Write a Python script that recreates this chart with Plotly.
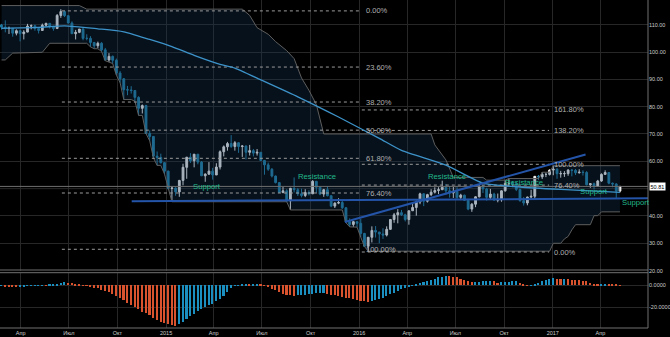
import plotly.graph_objects as go
from plotly.subplots import make_subplots
import pandas as pd

# ---------------- data (weekly candles) ----------------
week_start = "2014-02-24"
n_weeks = 168
dates = pd.date_range(week_start, periods=n_weeks, freq="7D")

opens = [109.9, 109.1, 108.6, 108.7, 106.9, 107.8, 106.7, 107.3, 109.5, 109.6,
         108.6, 107.9, 109.8, 110.5, 109.4, 108.6, 113.4, 114.8, 113.3, 110.6,
         106.7, 107.2, 108.4, 105.0, 105.0, 103.5, 102.3, 103.2, 100.8, 97.1,
         98.4, 97.0, 92.3, 90.2, 86.2, 86.1, 85.9, 83.4, 79.4, 80.4,
         70.2, 69.1, 61.9, 61.4, 59.5, 56.4, 50.1, 50.2, 48.8, 53.0,
         57.8, 61.5, 60.2, 62.6, 59.7, 54.7, 55.3, 56.4, 55.0, 57.9,
         63.5, 65.3, 66.5, 65.4, 66.8, 65.4, 65.6, 63.3, 63.9, 63.0,
         63.3, 60.3, 58.7, 57.1, 54.6, 52.2, 48.6, 49.2, 45.5, 50.1,
         49.6, 48.1, 47.5, 48.6, 48.1, 52.7, 50.5, 48.0, 49.6, 47.4,
         43.6, 44.7, 44.9, 43.0, 37.9, 36.9, 37.9, 37.3, 33.6, 28.9,
         32.2, 34.7, 34.1, 33.4, 33.0, 35.1, 38.7, 40.4, 41.2, 40.4,
         38.7, 41.9, 43.1, 45.1, 48.1, 45.4, 47.8, 48.7, 49.3, 49.6,
         50.5, 49.2, 48.4, 49.0, 46.8, 47.6, 45.7, 42.5, 44.3, 47.0,
         50.9, 49.9, 46.8, 48.0, 45.8, 45.9, 49.2, 51.9, 51.95, 51.8,
         49.7, 45.6, 44.75, 46.9, 47.2, 54.5, 54.3, 55.2, 55.2, 56.8,
         57.1, 55.45, 55.5, 55.5, 56.8, 56.7, 55.8, 56.0, 55.9, 51.4,
         51.8, 50.8, 52.8, 55.2, 55.9, 52.0, 51.7, 49.1]
highs = [110.3, 111.6, 109.3, 108.8, 108.3, 108.2, 108.0, 110.3, 110.1, 110.0,
         108.9, 110.4, 110.7, 110.6, 109.6, 113.9, 115.7, 115.2, 113.4, 111.2,
         108.1, 108.4, 108.9, 106.5, 105.8, 103.7, 103.8, 103.6, 101.5, 99.6,
         98.7, 97.6, 93.0, 90.5, 87.6, 87.5, 86.0, 83.8, 80.8, 80.7,
         71.3, 69.2, 63.6, 62.8, 59.7, 56.6, 50.9, 50.5, 53.2, 59.1,
         61.6, 63.0, 62.6, 62.6, 60.1, 55.6, 59.7, 57.6, 59.3, 64.0,
         65.8, 67.1, 69.6, 67.4, 67.0, 65.9, 65.8, 66.0, 64.5, 64.5,
         63.4, 60.5, 59.5, 57.5, 54.8, 52.3, 50.6, 49.8, 50.3, 54.1,
         50.2, 50.0, 49.8, 49.4, 53.1, 52.7, 50.7, 49.9, 50.9, 47.4,
         45.0, 46.5, 45.5, 43.2, 39.1, 38.2, 38.2, 38.9, 33.8, 32.3,
         36.2, 36.3, 34.2, 35.5, 36.2, 38.9, 41.1, 42.5, 42.2, 40.8,
         41.9, 44.7, 45.6, 48.5, 48.3, 48.1, 49.8, 50.5, 50.5, 52.9,
         51.7, 51.0, 50.6, 50.5, 48.1, 47.8, 45.9, 44.7, 47.2, 51.2,
         51.2, 50.3, 49.9, 48.5, 48.2, 49.4, 53.0, 53.7, 52.8, 52.3,
         50.0, 46.9, 47.1, 49.6, 54.5, 55.0, 56.0, 55.8, 57.0, 58.4,
         57.5, 56.5, 56.4, 57.1, 57.2, 57.2, 57.1, 56.7, 56.4, 52.0,
         52.2, 53.2, 55.6, 56.7, 56.0, 52.2, 52.0, 51.0]
lows = [108.2, 107.2, 106.6, 105.6, 106.1, 103.9, 104.6, 107.2, 108.3, 107.8,
        106.8, 107.7, 109.3, 108.6, 107.8, 108.4, 112.5, 112.8, 110.5, 106.7,
        104.6, 106.9, 104.3, 104.3, 101.9, 101.2, 101.4, 100.2, 96.8, 96.4,
        95.8, 91.5, 88.8, 82.6, 84.2, 84.8, 82.0, 76.8, 77.5, 70.1,
        67.5, 61.3, 58.5, 59.2, 55.3, 49.7, 45.2, 47.4, 47.0, 51.2,
        53.6, 59.4, 57.8, 58.9, 54.6, 52.5, 55.0, 53.3, 55.0, 57.0,
        61.8, 63.9, 64.9, 63.9, 63.1, 61.6, 60.7, 62.1, 61.8, 62.1,
        60.3, 55.1, 56.5, 54.1, 51.9, 48.4, 48.3, 45.1, 42.2, 48.6,
        47.3, 46.8, 46.9, 47.5, 48.0, 48.5, 47.6, 47.0, 47.2, 43.2,
        42.9, 44.3, 42.5, 37.5, 36.0, 36.0, 35.9, 32.2, 28.8, 27.1,
        30.3, 32.1, 30.0, 31.6, 32.5, 34.9, 37.5, 37.3, 40.0, 38.0,
        36.8, 41.8, 40.1, 44.3, 43.6, 44.9, 47.3, 48.2, 48.0, 49.5,
        47.8, 46.7, 46.6, 46.0, 45.8, 45.5, 42.1, 41.5, 43.2, 46.8,
        48.4, 45.6, 46.0, 45.6, 45.0, 45.2, 48.9, 50.6, 50.5, 49.1,
        45.2, 43.8, 43.9, 46.5, 45.9, 53.2, 53.5, 54.2, 54.8, 54.9,
        53.6, 54.0, 54.3, 54.7, 54.5, 55.0, 55.5, 54.8, 51.2, 50.3,
        49.7, 50.7, 52.5, 55.0, 51.6, 50.5, 46.6, 48.6]
closes = [109.1, 108.6, 108.7, 106.9, 107.8, 106.7, 107.3, 109.5, 109.6, 108.6,
          107.9, 109.8, 110.5, 109.4, 108.6, 113.4, 114.8, 113.3, 110.6, 106.7,
          107.2, 108.4, 105.0, 105.0, 103.5, 102.3, 103.2, 100.8, 97.1, 98.4,
          97.0, 92.3, 90.2, 86.2, 86.1, 85.9, 83.4, 79.4, 80.4, 70.2,
          69.1, 61.9, 61.4, 59.5, 56.4, 50.1, 50.2, 48.8, 53.0, 57.8,
          61.5, 60.2, 62.6, 59.7, 54.7, 55.3, 56.4, 55.0, 57.9, 63.5,
          65.3, 66.5, 65.4, 66.8, 65.4, 65.6, 63.3, 63.9, 63.0, 63.3,
          60.3, 58.7, 57.1, 54.6, 52.2, 48.6, 49.2, 45.5, 50.1, 49.6,
          48.1, 47.5, 48.6, 48.1, 52.7, 50.5, 48.0, 49.6, 47.4, 43.6,
          44.7, 44.9, 43.0, 37.9, 36.9, 37.9, 37.3, 33.6, 28.9, 32.2,
          34.7, 34.1, 33.4, 33.0, 35.1, 38.7, 40.4, 41.2, 40.4, 38.7,
          41.9, 43.1, 45.1, 48.1, 45.4, 47.8, 48.7, 49.3, 49.6, 50.5,
          49.2, 48.4, 49.0, 46.8, 47.6, 45.7, 42.5, 44.3, 47.0, 50.9,
          49.9, 46.8, 48.0, 45.8, 45.9, 49.2, 51.9, 51.95, 51.8, 49.7,
          45.6, 44.75, 46.9, 47.2, 54.5, 54.3, 55.2, 55.2, 56.8, 57.1,
          55.45, 55.5, 55.5, 56.8, 56.7, 55.8, 56.0, 55.9, 51.4, 51.8,
          50.8, 52.8, 55.2, 55.9, 52.0, 51.7, 49.1, 50.81]

macd = [-0.5, -0.8, -1.0, -1.3, -1.5, -1.2, -0.9, -0.6, -0.4, -0.2,
        0.1, 0.2, 0.1, 0.3, 0.8, 1.5, 2.2, 2.6, 2.3, 1.8,
        1.0, 0.5, 0.2, -0.6, -1.2, -2.0, -2.8, -3.8, -5.0, -6.3,
        -7.8, -9.5, -11.5, -13.5, -15.5, -17.5, -19.5, -21.5, -23.5, -25.0,
        -27.0, -29.0, -31.0, -32.5, -34.0, -35.0, -35.8, -36.3, -35.0, -33.0,
        -30.5, -27.5, -25.5, -23.0, -21.5, -19.5, -17.5, -16.5, -14.5, -12.0,
        -9.5, -6.0, -2.5, -0.5, 0.1, 0.5, 0.8, 0.6, 1.2, 1.5,
        0.8, -0.5, -1.5, -3.0, -4.5, -6.0, -7.5, -8.5, -9.0, -9.5,
        -9.0, -8.8, -8.3, -8.0, -7.5, -7.3, -7.2, -6.8, -8.0, -8.5,
        -9.0, -9.8, -10.5, -11.0, -11.8, -12.5, -13.2, -13.8, -14.3, -14.6,
        -14.2, -13.6, -12.5, -11.0, -9.5, -8.0, -6.5, -5.0, -3.5, -2.0,
        -1.2, -0.5, 0.5, 1.8, 2.8, 3.8, 5.0, 6.0, 7.0, 7.8,
        8.3, 8.1, 7.6, 7.0, 5.8, 4.6, 3.5, 2.8, 3.0, 3.3,
        3.5, 3.9, 4.2, 3.5, 2.5, 2.6, 2.9, 3.2, 3.5, 3.7,
        2.5, 0.3, -0.2, -0.1, 0.5, 2.0, 3.5, 4.8, 5.8, 6.3,
        5.8, 5.5, 5.5, 5.3, 5.2, 5.0, 4.8, 4.3, 3.6, 2.5,
        1.5, 0.5, 0.8, 1.0, 0.8, 0.5, 0.3, 0.2]

ma_dates = ["2014-02-24", "2014-05-05", "2014-06-23", "2014-08-25", "2014-10-13",
            "2014-12-01", "2015-01-12", "2015-02-23", "2015-04-13", "2015-05-11",
            "2015-06-29", "2015-09-07", "2015-11-23", "2016-02-08", "2016-03-21",
            "2016-06-13", "2016-08-22", "2016-10-31", "2017-01-16", "2017-05-08"]
ma_values = [108.7, 109.0, 109.6, 108.5, 107.4, 104.6, 102.0, 98.8, 95.5, 94.1,
             89.8, 83.6, 76.2, 68.4, 64.0, 58.6, 52.0, 50.6, 49.7, 48.6]

upper_dates = ["2014-02-24", "2014-07-21", "2014-08-04", "2015-05-25", "2015-06-08",
               "2015-06-22", "2015-07-13", "2015-07-27", "2015-08-17", "2015-08-31",
               "2015-09-14", "2015-09-28", "2015-10-12", "2015-10-26", "2016-05-16",
               "2016-05-23", "2016-06-13", "2016-06-27", "2016-08-22", "2016-08-29",
               "2016-10-03", "2016-10-10", "2016-12-05", "2016-12-12", "2016-12-26",
               "2017-01-02", "2017-05-08"]
upper_values = [117.0, 117.0, 115.7, 115.7, 113.4,
                108.9, 106.5, 103.8, 100.5, 97.6,
                90.5, 86.0, 80.8, 70.0, 70.0,
                66.0, 60.5, 54.1, 54.1, 53.1,
                53.1, 53.7, 53.7, 56.0, 56.0,
                58.4, 58.4]

lower_dates = ["2014-02-24", "2014-03-03", "2014-03-17", "2014-05-12", "2014-05-26",
               "2014-08-04", "2014-08-11", "2014-08-18", "2014-08-25", "2014-09-01",
               "2014-09-08", "2014-09-15", "2014-09-22", "2014-09-29", "2014-10-06",
               "2014-10-13", "2014-10-27", "2014-11-03", "2014-11-10", "2014-11-17",
               "2014-11-24", "2014-12-01", "2014-12-08", "2014-12-15", "2014-12-22",
               "2014-12-29", "2015-01-05", "2015-01-12", "2015-08-17", "2015-08-24",
               "2015-11-30", "2015-12-07", "2015-12-14", "2015-12-28", "2016-01-04",
               "2016-01-11", "2016-01-18", "2016-12-26", "2017-01-02", "2017-01-16",
               "2017-01-23", "2017-01-30", "2017-02-06", "2017-02-13", "2017-03-13",
               "2017-03-20", "2017-03-27", "2017-04-03", "2017-05-08"]
lower_values = [97.1, 97.1, 99.6, 99.9, 103.2,
                103.2, 101.9, 101.2, 101.2, 100.2,
                96.8, 96.4, 95.8, 91.5, 88.8,
                82.6, 82.6, 82.0, 76.8, 76.8,
                70.1, 67.5, 61.3, 58.5, 58.5,
                55.3, 49.7, 45.2, 45.2, 42.2,
                42.2, 37.5, 36.0, 35.9, 32.2,
                28.8, 27.1, 27.1, 30.0, 30.0,
                31.6, 32.5, 34.9, 36.8, 36.8,
                40.1, 40.1, 41.5, 41.5]

fib1_levels = [115.05, 94.5, 81.7, 71.4, 61.1, 48.4, 27.8]
fib1_labels = ["0.00%", "23.60%", "38.20%", "50.00%", "61.80%", "76.40%", "100.00%"]
fib1_span = ["2014-06-18", "2016-01-02"]
fib1_label_date = "2016-01-11"

fib2_levels = [26.8, 51.3, 58.9, 71.3, 78.8]
fib2_labels = ["0.00%", "76.40%", "100.00%", "138.20%", "161.80%"]
fib2_span = ["2016-01-06", "2016-12-25"]
fib2_label_date = "2016-12-31"

support_line_dates = ["2014-10-28", "2017-06-30"]
support_line_values = [45.35, 46.45]
uptrend_dates = ["2015-12-05", "2017-03-04"]
uptrend_values = [37.8, 62.5]

note_texts = ["Support", "Resistance", "Resistance", "Resistance", "Support", "Support"]
note_dates = ["2015-02-18", "2015-09-03", "2016-05-06", "2016-09-28", "2017-02-17", "2017-05-08"]
note_prices = [50.95, 54.4, 54.6, 52.4, 48.9, 45.0]

last_price = 50.81
# the 50.00 label is hidden behind the last-price box in the reference
price_ticks = [20, 30, 40, 60, 70, 80, 90, 100, 110]
macd_ticks = [0, -20]
macd_tick_text = ["0.0000", "-20.0000"]
x_tick_dates = ["2014-04-01", "2014-07-01", "2014-10-01", "2015-01-01", "2015-04-01",
                "2015-07-01", "2015-10-01", "2016-01-01", "2016-04-01", "2016-07-01",
                "2016-10-01", "2017-01-01", "2017-04-01"]
x_tick_text = ["Апр", "Июл", "Окт", "2015", "Апр", "Июл", "Окт", "2016", "Апр", "Июл",
               "Окт", "2017", "Апр"]

# ---------------- styles ----------------
BG = "#000000"
GRID = "#272727"
AXIS_TXT = "#cccccc"
UP = "#f2f2f2"
DOWN = "#2283ad"
MA_COL = "#3d93c9"
TREND_COL = "#2454a8"
CHAN_COL = "#5e5e5e"
FIB_COL = "#9c9c9c"
FIB_TXT = "#b0b0b0"
NOTE_COL = "#22b98b"
HIST_UP = "#1b8fc0"
HIST_DN = "#d9532f"
FONT = "Liberation Sans"

fig = make_subplots(rows=2, cols=1, shared_xaxes=True, vertical_spacing=0.0)

# channel fill
fig.add_trace(go.Scatter(x=upper_dates + lower_dates[::-1],
                         y=upper_values + lower_values[::-1],
                         fill="toself", fillcolor="rgba(22,52,84,0.32)",
                         line=dict(width=0), mode="lines", hoverinfo="skip"), row=1, col=1)
fig.add_trace(go.Scatter(x=upper_dates, y=upper_values, mode="lines",
                         line=dict(color=CHAN_COL, width=1)), row=1, col=1)
fig.add_trace(go.Scatter(x=lower_dates, y=lower_values, mode="lines",
                         line=dict(color=CHAN_COL, width=1)), row=1, col=1)

# price line
fig.add_trace(go.Scatter(x=["2014-02-21", "2017-06-30"], y=[last_price, last_price],
                         mode="lines", line=dict(color="#6e6e6e", width=1)), row=1, col=1)

# fibonacci levels
fx, fy = [], []
for lv in fib1_levels:
    fx += [fib1_span[0], fib1_span[1], None]
    fy += [lv, lv, None]
for lv in fib2_levels:
    fx += [fib2_span[0], fib2_span[1], None]
    fy += [lv, lv, None]
fig.add_trace(go.Scatter(x=fx, y=fy, mode="lines",
                         line=dict(color=FIB_COL, width=1, dash="dot")), row=1, col=1)

# moving average
fig.add_trace(go.Scatter(x=ma_dates, y=ma_values, mode="lines",
                         line=dict(color=MA_COL, width=1.3, shape="spline", smoothing=0.6)),
              row=1, col=1)

# candles
fig.add_trace(go.Candlestick(x=dates, open=opens, high=highs, low=lows, close=closes,
                             increasing=dict(line=dict(color=UP, width=1), fillcolor=UP),
                             decreasing=dict(line=dict(color=DOWN, width=1), fillcolor=DOWN),
                             whiskerwidth=0), row=1, col=1)

# trend lines
fig.add_trace(go.Scatter(x=support_line_dates, y=support_line_values, mode="lines",
                         line=dict(color=TREND_COL, width=2)), row=1, col=1)
fig.add_trace(go.Scatter(x=uptrend_dates, y=uptrend_values, mode="lines",
                         line=dict(color=TREND_COL, width=2)), row=1, col=1)

# histogram
hist_colors = [HIST_UP if i == 0 or v >= macd[i - 1] else HIST_DN for i, v in enumerate(macd)]
fig.add_trace(go.Bar(x=dates, y=macd, marker=dict(color=hist_colors, line=dict(width=0)),
                     width=2.6e8), row=2, col=1)

# text annotations
for t, d, p in zip(note_texts, note_dates, note_prices):
    fig.add_annotation(x=d, y=p, xref="x", yref="y", text=t, showarrow=False,
                       xanchor="left", yanchor="middle",
                       font=dict(family=FONT, size=7.7, color=NOTE_COL))
for lv, lab in zip(fib1_levels, fib1_labels):
    fig.add_annotation(x=fib1_label_date, y=lv, xref="x", yref="y", text=lab,
                       showarrow=False, xanchor="left", yanchor="middle",
                       font=dict(family=FONT, size=7.5, color=FIB_TXT))
for lv, lab in zip(fib2_levels, fib2_labels):
    fig.add_annotation(x=fib2_label_date, y=lv, xref="x", yref="y", text=lab,
                       showarrow=False, xanchor="left", yanchor="middle",
                       font=dict(family=FONT, size=7.5, color=FIB_TXT))
fig.add_annotation(x=1.0, y=last_price, xref="paper", yref="y", text="50.81",
                   showarrow=False, xanchor="left", yanchor="middle", xshift=1,
                   bgcolor="#ffffff", borderpad=0.5,
                   font=dict(family=FONT, size=5.5, color="#000000"))

# frame lines
H = 328.0
for py in (270.0, 272.7):
    fig.add_shape(type="line", xref="paper", yref="paper", x0=0, x1=1,
                  y0=1 - py / H, y1=1 - py / H, line=dict(color="#707070", width=1))
fig.add_shape(type="line", xref="paper", yref="paper", x0=0, x1=1, y0=0, y1=0,
              line=dict(color="#707070", width=1))
fig.add_shape(type="line", xref="paper", yref="paper", x0=1, x1=1, y0=0, y1=1,
              line=dict(color="#707070", width=1))
# grid line at 50 (its label is covered by the price box)
fig.add_shape(type="line", xref="paper", yref="y", x0=0, x1=1, y0=50, y1=50,
              line=dict(color=GRID, width=1), layer="below")

fig.update_layout(
    width=670, height=337,
    margin=dict(l=0, r=22, t=0, b=9),
    paper_bgcolor=BG, plot_bgcolor=BG,
    showlegend=False,
    font=dict(family=FONT, size=5.5, color=AXIS_TXT),
    bargap=0,
)
xr = ["2014-02-21", "2017-06-30"]
fig.update_xaxes(range=xr, type="date", tickvals=x_tick_dates, ticktext=x_tick_text,
                 showgrid=True, gridcolor=GRID, gridwidth=1, zeroline=False,
                 showline=False, ticks="", rangeslider=dict(visible=False),
                 tickfont=dict(family=FONT, size=5.5, color=AXIS_TXT))
fig.update_xaxes(showticklabels=False, row=1, col=1)
fig.update_yaxes(domain=[1 - 271 / H, 1], range=[19.85, 119.04], side="right",
                 tickvals=price_ticks, tickformat=".2f", showgrid=True, gridcolor=GRID,
                 zeroline=False, ticks="", tickfont=dict(family=FONT, size=5.5, color=AXIS_TXT),
                 row=1, col=1)
fig.update_yaxes(domain=[0, 1 - 272.7 / H], range=[-38.57, 11.03], side="right",
                 tickvals=macd_ticks, ticktext=macd_tick_text, showgrid=True, gridcolor=GRID,
                 zeroline=False, ticks="", tickfont=dict(family=FONT, size=5.5, color=AXIS_TXT),
                 row=2, col=1)

fig.write_html("out.html")
